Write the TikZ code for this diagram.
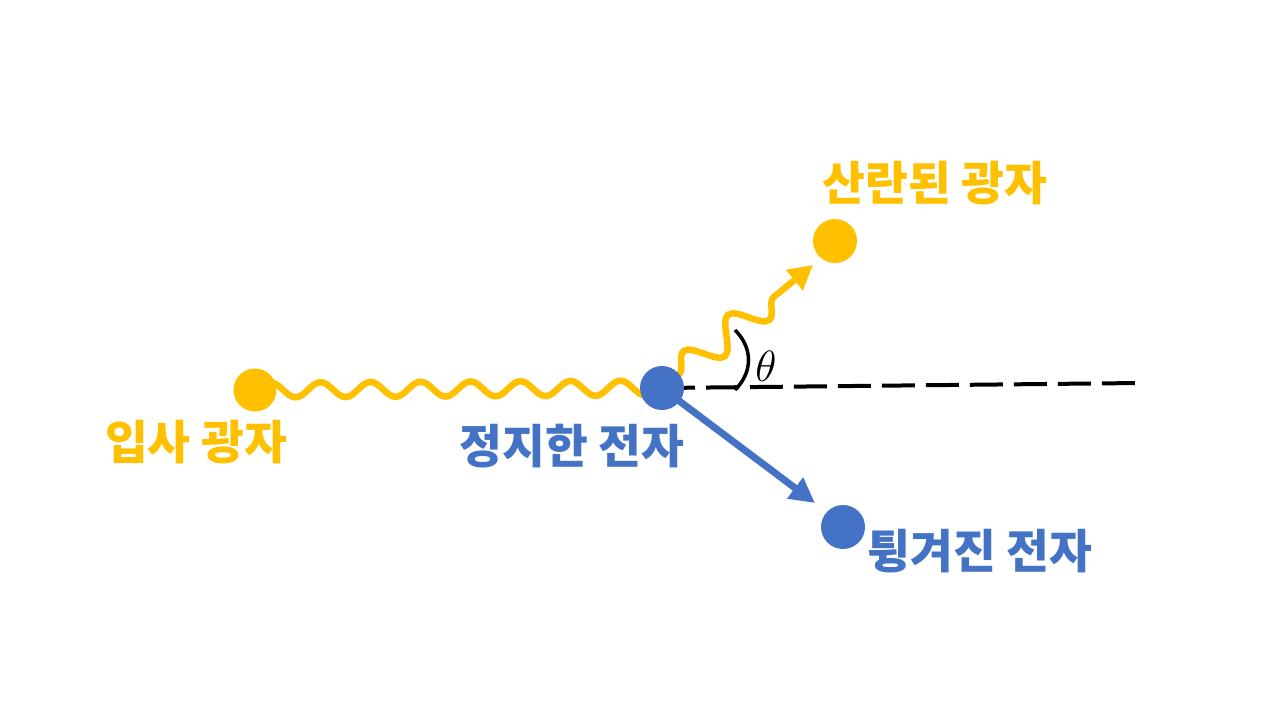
\documentclass[tikz,border=0pt]{standalone}
\usepackage{fontspec}
\newfontfamily\kr{Noto Sans CJK KR Black}
\usetikzlibrary{arrows.meta,decorations.pathmorphing}
\definecolor{phot}{HTML}{FFC000}
\definecolor{elec}{HTML}{4472C4}
\tikzset{
  dot/.style={circle, inner sep=0pt, minimum size=0.88cm},
  label kr/.style={anchor=base, inner sep=0pt, font=\kr\fontsize{26.5}{26.5}\selectfont},
  wave/.style={phot, line width=0.13cm, decorate},
}
\begin{document}
\begin{tikzpicture}[x=0.02cm, y=-0.02cm]
\useasboundingbox (0,0) rectangle (1280,720);
% positions
\coordinate (inphc) at (255,390);
\coordinate (e0c) at (662,388);
\coordinate (sphtip) at (813,265);
\coordinate (e1tip) at (815,503);
\coordinate (dashend) at (1140,383);
% dashed line
\draw[black, line width=0.08cm, dash pattern=on 0.66cm off 0.22cm] (e0c) -- (dashend);
% angle arc
\coordinate (arcA) at (735,390);
\coordinate (arcB) at (735,330);
\draw[black, line width=0.07cm] (arcA) .. controls (753,372) and (753,348) .. (arcB);
\node[inner sep=0pt, font=\fontsize{24}{24}\selectfont] (th) at (766,366) {$\theta$};
% incident photon wave
\draw[wave, decoration={snake, segment length=1cm, amplitude=0.15cm}] (inphc) -- (e0c);
% scattered photon
\draw[wave, decoration={snake, segment length=1.15cm, amplitude=0.3cm, pre length=0.44cm, post length=0.6cm},
  -{Triangle[length=0.48cm, width=0.5cm]}] (e0c) -- (sphtip);
% recoil electron
\draw[elec, line width=0.14cm, -{Triangle[length=0.5cm, width=0.5cm]}] (e0c) -- (e1tip);
% dots
\node[dot, fill=phot, minimum size=0.86cm] (inph) at (inphc) {};
\node[dot, fill=elec] (e0) at (e0c) {};
\node[dot, fill=phot] (sph) at (835,241) {};
\node[dot, fill=elec] (e1) at (843,527) {};
% labels
\node[label kr, text=phot] (l1) at (196,459) {입사 광자};
\node[label kr, text=elec] (l2) at (572,463) {정지한 전자};
\node[label kr, text=phot] (l3) at (935,200) {산란된 광자};
\node[label kr, text=elec] (l4) at (980,568) {튕겨진 전자};
\end{tikzpicture}
\end{document}
